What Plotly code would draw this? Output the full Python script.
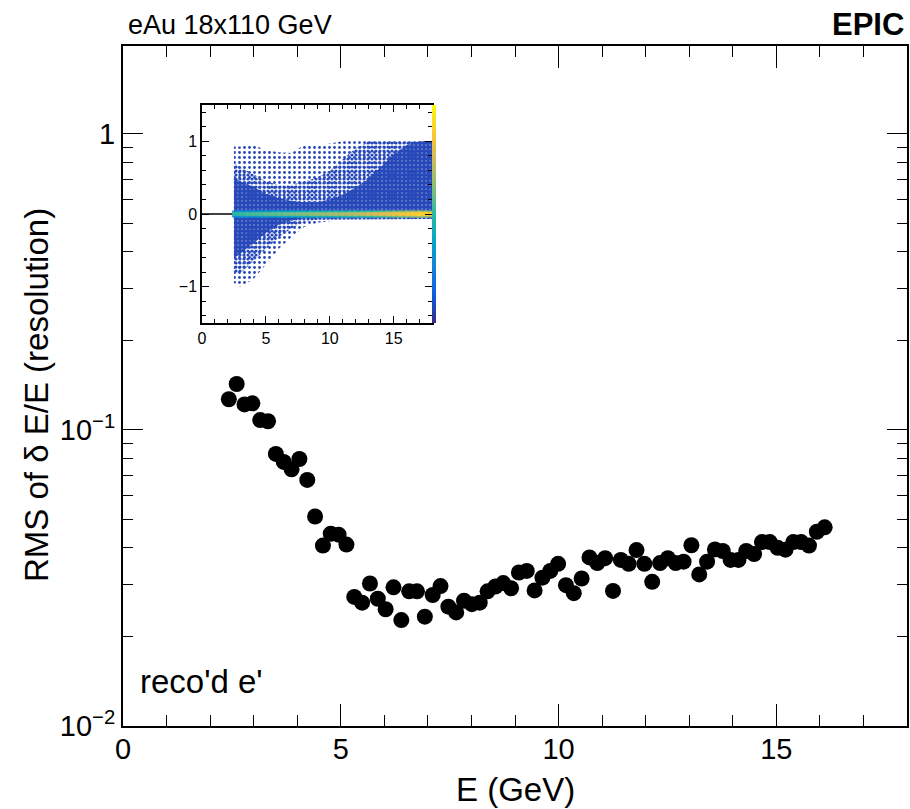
import plotly.graph_objects as go

# ---------------- main graph data ----------------
E_vals = [2.43, 2.61, 2.79, 2.97, 3.15, 3.33, 3.51, 3.69, 3.87, 4.05,
          4.23, 4.41, 4.59, 4.77, 4.95, 5.13, 5.31, 5.49, 5.67, 5.85,
          6.03, 6.21, 6.39, 6.57, 6.75, 6.93, 7.11, 7.29, 7.47, 7.65,
          7.83, 8.01, 8.19, 8.37, 8.55, 8.73, 8.91, 9.09, 9.27, 9.45,
          9.63, 9.81, 9.99, 10.17, 10.35, 10.53, 10.71, 10.89, 11.07, 11.25,
          11.43, 11.61, 11.79, 11.97, 12.15, 12.33, 12.51, 12.69, 12.87, 13.05,
          13.23, 13.41, 13.59, 13.77, 13.95, 14.13, 14.31, 14.49, 14.67, 14.85,
          15.03, 15.21, 15.39, 15.57, 15.75, 15.93, 16.11]
rms_vals = [0.127, 0.143, 0.122, 0.123, 0.108, 0.107, 0.083, 0.078, 0.0736, 0.0798,
            0.0678, 0.051, 0.0407, 0.0446, 0.0443, 0.041, 0.0273, 0.0261, 0.0303, 0.0269,
            0.0248, 0.0294, 0.0228, 0.0285, 0.0285, 0.0234, 0.0277, 0.0297, 0.0253, 0.0242,
            0.0265, 0.0258, 0.0261, 0.0285, 0.0296, 0.0304, 0.0292, 0.0330, 0.0334, 0.0287,
            0.0317, 0.0334, 0.0353, 0.0299, 0.0281, 0.0315, 0.0371, 0.0355, 0.0369, 0.0286,
            0.0364, 0.0353, 0.0393, 0.0353, 0.0307, 0.0355, 0.0369, 0.0355, 0.0359, 0.0408,
            0.0325, 0.0359, 0.0395, 0.0390, 0.0364, 0.0364, 0.0390, 0.0381, 0.0418, 0.0418,
            0.0400, 0.0394, 0.0418, 0.0418, 0.0407, 0.0453, 0.0469]

x_ticks = [0, 5, 10, 15]
y_tickvals = [0.01, 0.1, 1]
y_ticktext = ["10<sup>\u22122</sup>", "10<sup>\u22121</sup>", "1"]
y_minor = [0.02, 0.03, 0.04, 0.05, 0.06, 0.07, 0.08, 0.09,
           0.2, 0.3, 0.4, 0.5, 0.6, 0.7, 0.8, 0.9]

# ---------------- inset (delta E/E vs E) data ----------------
inset_E = [2.5, 3, 4, 5, 6, 7, 8, 9, 10, 11, 12, 13, 14, 15, 16, 17, 18]
outer_hi = [0.93, 0.93, 0.95, 0.88, 0.85, 0.84, 0.95, 0.95, 0.97, 1.0, 1.0, 1.0, 1.0, 1.0, 1.0, 1.0, 1.0]
mid_hi = [0.70, 0.65, 0.55, 0.45, 0.40, 0.40, 0.45, 0.50, 0.60, 0.75, 0.90, 1.0, 1.0, 1.0, 1.0, 1.0, 1.0]
dense_hi = [0.50, 0.45, 0.38, 0.28, 0.22, 0.18, 0.16, 0.16, 0.20, 0.26, 0.36, 0.48, 0.65, 0.82, 0.95, 1.0, 1.0]
dense_lo = [-0.60, -0.55, -0.40, -0.26, -0.15, -0.09, -0.06, -0.05, -0.05, -0.05, -0.05, -0.05, -0.05, -0.05, -0.05, -0.05, -0.05]
mid_lo = [-0.82, -0.82, -0.65, -0.48, -0.32, -0.20, -0.11, -0.08, -0.07, -0.07, -0.07, -0.07, -0.07, -0.07, -0.07, -0.07, -0.07]
outer_lo = [-0.95, -1.0, -0.90, -0.70, -0.48, -0.32, -0.18, -0.12, -0.10, -0.08, -0.08, -0.08, -0.08, -0.08, -0.08, -0.08, -0.08]

core_x = [2.75, 3.25, 3.75, 4.25, 4.75, 5.25, 5.75, 6.25, 6.75, 7.25,
          7.75, 8.25, 8.75, 9.25, 9.75, 10.25, 10.75, 11.25, 11.75, 12.25,
          12.75, 13.25, 13.75, 14.25, 14.75, 15.25, 15.75, 16.25, 16.75, 17.25, 17.75]
core_mid = [0.50, 0.52, 0.53, 0.54, 0.55, 0.56, 0.57, 0.58, 0.59, 0.60,
            0.61, 0.62, 0.63, 0.64, 0.65, 0.66, 0.67, 0.68, 0.69, 0.70,
            0.72, 0.74, 0.76, 0.78, 0.80, 0.82, 0.84, 0.86, 0.88, 0.90, 0.88]
core_side = [0.30, 0.31, 0.32, 0.33, 0.34, 0.35, 0.36, 0.37, 0.38, 0.39,
             0.40, 0.41, 0.42, 0.43, 0.44, 0.45, 0.46, 0.47, 0.48, 0.49,
             0.50, 0.51, 0.53, 0.55, 0.57, 0.59, 0.61, 0.63, 0.65, 0.67, 0.65]
core_level = [0.0] * len(core_x)
zero_line_x = [0, 18]
zero_line_y = [0, 0]
inset_x_ticks = [0, 5, 10, 15]
inset_y_ticks = [-1, 0, 1]

kbird = [
    [0.000, "rgb(53,42,135)"],
    [0.125, "rgb(15,92,221)"],
    [0.250, "rgb(20,129,214)"],
    [0.375, "rgb(6,164,202)"],
    [0.500, "rgb(46,183,164)"],
    [0.625, "rgb(135,191,119)"],
    [0.750, "rgb(209,187,89)"],
    [0.875, "rgb(254,200,50)"],
    [1.000, "rgb(249,251,14)"],
]

FONT = "Liberation Sans, Arial, Helvetica, sans-serif"
W, H = 910, 809
CELL_BLUE = "rgb(38,72,185)"

def px_x(p):
    return p / W

def px_y(p):
    return 1 - p / H

fig = go.Figure()

# main graph points
fig.add_trace(go.Scatter(
    x=E_vals, y=rms_vals, mode="markers",
    marker=dict(color="black", size=16, line=dict(width=0)),
    xaxis="x", yaxis="y", showlegend=False, hoverinfo="x+y"))

# inset: zero line
fig.add_trace(go.Scatter(
    x=zero_line_x, y=zero_line_y, mode="lines",
    line=dict(color="black", width=1.5),
    xaxis="x2", yaxis="y2", showlegend=False, hoverinfo="skip"))

def band(hi, lo, size, solidity, bg):
    fig.add_trace(go.Scatter(
        x=inset_E + inset_E[::-1], y=hi + lo[::-1],
        mode="lines", fill="toself", line=dict(width=0),
        fillpattern=dict(shape=".", fgcolor=CELL_BLUE, bgcolor=bg,
                         size=size, solidity=solidity),
        xaxis="x2", yaxis="y2", showlegend=False, hoverinfo="skip"))

band(outer_hi, outer_lo, 5, 0.25, "rgba(255,255,255,0)")
band(mid_hi, mid_lo, 4, 0.5, "rgba(255,255,255,0)")
band(dense_hi, dense_lo, 4, 0.8, "rgba(38,72,185,0.6)")

# inset: core band (side rows, then central row)
fig.add_trace(go.Scatter(
    x=core_x, y=core_level, mode="markers",
    marker=dict(symbol="line-ew", size=7,
                line=dict(width=7, color=core_side, colorscale=kbird, cmin=0, cmax=1)),
    xaxis="x2", yaxis="y2", showlegend=False, hoverinfo="skip"))
fig.add_trace(go.Scatter(
    x=core_x, y=core_level, mode="markers",
    marker=dict(symbol="line-ew", size=7,
                line=dict(width=3.5, color=core_mid, colorscale=kbird, cmin=0, cmax=1),
                color=core_mid, colorscale=kbird, cmin=0, cmax=1, showscale=True,
                colorbar=dict(x=px_x(432), xanchor="left", xref="paper",
                              y=px_y(214), yanchor="middle", yref="paper",
                              len=(323 - 105) / H, lenmode="fraction", thickness=4,
                              xpad=0, ypad=0,
                              outlinewidth=0, showticklabels=False, ticks="")),
    xaxis="x2", yaxis="y2", showlegend=False, hoverinfo="skip"))

ax_common = dict(showline=True, linecolor="black", mirror="allticks",
                 ticks="inside", tickcolor="black", showgrid=False, zeroline=False,
                 automargin=False)

fig.update_layout(
    template="none",
    width=W, height=H,
    margin=dict(l=0, r=0, t=0, b=0, pad=0, autoexpand=False),
    paper_bgcolor="white", plot_bgcolor="white",
    font=dict(family=FONT, color="black"),
    xaxis=dict(domain=[px_x(123), px_x(907)], range=[0, 18], anchor="y",
               tickvals=x_ticks, ticklen=22, tickwidth=1, linewidth=2,
               tickfont=dict(size=29), ticklabelstandoff=-4,
               minor=dict(dtick=1, tick0=0, ticks="inside", ticklen=11, tickcolor="black"),
               **ax_common),
    yaxis=dict(domain=[px_y(726), px_y(46)], type="log", range=[-2, 0.297], anchor="x",
               tickvals=y_tickvals, ticktext=y_ticktext, ticklen=20, tickwidth=1, linewidth=2,
               tickfont=dict(size=29), ticklabelstandoff=0,
               minor=dict(tickvals=y_minor, ticks="inside", ticklen=10, tickcolor="black"),
               **ax_common),
    xaxis2=dict(domain=[px_x(202), px_x(432)], range=[0, 18], anchor="y2",
                tickvals=inset_x_ticks, ticklen=7, linewidth=1.5,
                tickfont=dict(size=16),
                minor=dict(dtick=1, tick0=0, ticks="inside", ticklen=4, tickcolor="black"),
                **ax_common),
    yaxis2=dict(domain=[px_y(323), px_y(105)], range=[-1.5, 1.5], anchor="x2",
                tickvals=inset_y_ticks, ticklen=7, linewidth=1.5,
                tickfont=dict(size=16),
                minor=dict(dtick=0.2, tick0=0, ticks="inside", ticklen=4, tickcolor="black"),
                **ax_common),
    annotations=[
        dict(text="E (GeV)", x=px_x(515), y=px_y(789), xref="paper", yref="paper",
             showarrow=False, font=dict(size=33), xanchor="center", yanchor="middle"),
        dict(text="RMS of \u03b4 E/E (resolution)", x=px_x(36), y=px_y(395),
             xref="paper", yref="paper", textangle=-90,
             showarrow=False, font=dict(size=33), xanchor="center", yanchor="middle"),
        dict(text="eAu 18x110 GeV", x=px_x(126), y=px_y(25), xref="paper", yref="paper",
             showarrow=False, font=dict(size=27), xanchor="left", yanchor="middle"),
        dict(text="<b>EPIC</b>", x=px_x(906), y=px_y(25), xref="paper", yref="paper",
             showarrow=False, font=dict(size=31), xanchor="right", yanchor="middle"),
        dict(text="reco'd e'", x=px_x(138), y=px_y(681), xref="paper", yref="paper",
             showarrow=False, font=dict(size=33), xanchor="left", yanchor="middle"),
    ],
)

fig.write_html("out.html", config={"displayModeBar": False},
               post_script="document.body.style.margin='0';document.body.style.overflow='hidden';")
